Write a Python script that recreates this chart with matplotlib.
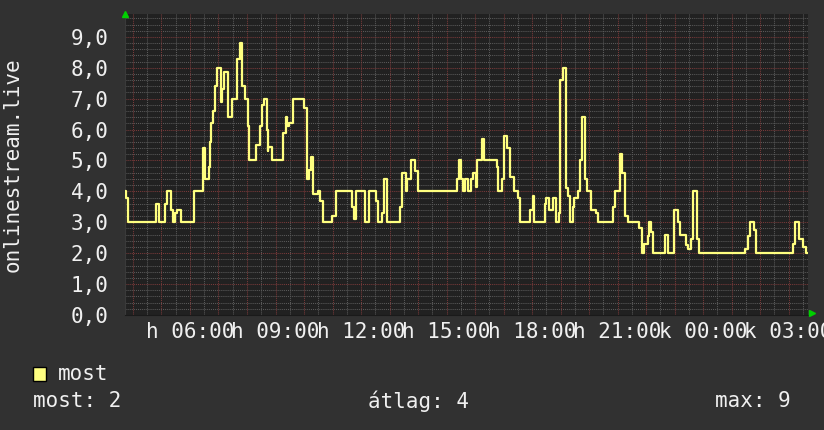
import matplotlib
matplotlib.use("Agg")
import matplotlib.pyplot as plt
from matplotlib.patches import Rectangle
import numpy as np

# ---- data (time in hours since midnight of day 1; value = viewers) ----
change_hours = [3.72, 3.77, 3.84, 4.79, 4.93, 5.14, 5.21, 5.33, 5.40, 5.47, 5.54, 5.67,
                6.14, 6.47, 6.54, 6.65, 6.70, 6.75, 6.81, 6.89, 6.96, 7.10, 7.14, 7.19,
                7.35, 7.48, 7.66, 7.75, 7.84, 7.93, 8.02, 8.07, 8.33, 8.46, 8.51, 8.60,
                8.69, 8.73, 8.75, 8.86, 9.26, 9.36, 9.41, 9.46, 9.61, 10.01, 10.09, 10.16,
                10.25, 10.33, 10.48, 10.56, 10.68, 10.97, 11.11, 11.68, 11.76, 11.82, 12.14,
                12.28, 12.51, 12.58, 12.72, 12.79, 12.91, 13.38, 13.43, 13.58, 13.62, 13.75,
                13.91, 14.01, 15.37, 15.42, 15.51, 15.59, 15.66, 15.75, 15.86, 15.92, 16.02,
                16.07, 16.24, 16.33, 16.77, 16.82, 16.95, 17.00, 17.12, 17.24, 17.35, 17.50,
                17.56, 17.92, 18.02, 18.08, 18.44, 18.50, 18.58, 18.74, 18.83, 18.95, 18.99,
                19.09, 19.18, 19.26, 19.34, 19.44, 19.48, 19.60, 19.68, 19.75, 19.86, 19.91,
                20.08, 20.26, 20.32, 20.84, 20.91, 21.10, 21.17, 21.26, 21.37, 21.74, 21.84,
                21.93, 22.05, 22.09, 22.16, 22.25, 22.67, 22.78, 22.98, 23.11, 23.18, 23.39,
                23.46, 23.57, 23.65, 23.77, 23.84, 25.46, 25.56, 25.65, 25.77, 25.85, 27.17,
                27.23, 27.38, 27.50, 27.60]
viewers = [4.0, 3.8, 3.0, 3.6, 3.0, 3.6, 4.0, 3.4, 3.0, 3.3, 3.4, 3.0,
           4.0, 5.4, 4.4, 4.8, 5.6, 6.2, 6.6, 7.4, 8.0, 6.9, 7.3, 7.85,
           6.4, 7.0, 8.3, 8.8, 7.4, 7.0, 6.1, 5.0, 5.5, 6.1, 6.8, 7.0,
           6.0, 5.3, 5.45, 5.0, 5.9, 6.4, 6.1, 6.2, 7.0, 6.7, 4.4, 4.7,
           5.1, 3.9, 4.0, 3.7, 3.0, 3.2, 4.0, 3.5, 3.1, 4.0, 3.0,
           4.0, 3.7, 3.0, 3.3, 4.4, 3.0, 3.5, 4.6, 4.0, 4.4, 5.0,
           4.65, 4.0, 4.4, 5.0, 4.4, 4.0, 4.4, 4.0, 4.4, 4.6, 4.15,
           5.0, 5.7, 5.0, 4.8, 4.0, 4.4, 5.8, 5.4, 4.45, 4.0, 3.8,
           3.0, 3.4, 3.85, 3.0, 3.6, 3.8, 3.4, 3.8, 3.0, 3.3, 7.6,
           8.0, 4.1, 3.85, 3.0, 3.5, 3.8, 4.0, 5.0, 6.4, 4.4, 4.0,
           3.4, 3.3, 3.0, 3.5, 4.0, 5.2, 4.6, 3.2, 3.0, 2.8, 2.0,
           2.3, 2.55, 3.0, 2.7, 2.0, 2.6, 2.0, 3.4, 3.0, 2.6, 2.25,
           2.15, 2.45, 4.0, 2.45, 2.0, 2.15, 2.55, 3.0, 2.75, 2.0, 2.3,
           3.0, 2.45, 2.2, 2.0]
end_hour = 27.67
x_range = [3.72, 27.68]
y_range = [0.0, 9.74]

tick_hours = [6, 9, 12, 15, 18, 21, 24, 27]
tick_labels = ["h 06:00", "h 09:00", "h 12:00", "h 15:00", "h 18:00",
               "h 21:00", "k 00:00", "k 03:00"]
y_ticks = [0, 1, 2, 3, 4, 5, 6, 7, 8, 9]
y_tick_labels = ["0,0", "1,0", "2,0", "3,0", "4,0", "5,0", "6,0", "7,0", "8,0", "9,0"]
series_name = "most"
y_title = "onlinestream.live"
stats = ["most: 2", "átlag: 4", "max: 9"]

# ---- style ----
CANVAS = "#313131"
PLOT_BG = "#212121"
LINE = "#ffff80"
TXT = "#f0f0f0"
MINOR = "#5a5a5a"
MAJOR = "#7a3a3a"
FONT = "DejaVu Sans Mono"
FS = 15

W, H = 824, 430
fig = plt.figure(figsize=(W / 100, H / 100), dpi=100)
fig.patch.set_facecolor(CANVAS)
ax = fig.add_axes([125 / W, 115 / H, 683 / W, 301 / H])
ax.set_facecolor(PLOT_BG)
ax.set_xlim(*x_range)
ax.set_ylim(*y_range)

# grid
for h in np.arange(3.5, 28.0, 0.5):
    if abs(h - round(h)) > 1e-6:
        ax.axvline(h, color=MINOR, lw=0.75, ls=(0, (1, 1)), zorder=1)
for h in range(4, 28):
    ax.axvline(h, color=MAJOR, lw=0.75, ls=(0, (1, 1)), zorder=1.1)
for v in np.arange(0.2, 9.7, 0.2):
    if abs(v - round(v)) > 1e-6:
        ax.axhline(v, color=MINOR, lw=0.75, ls=(0, (1, 1)), zorder=1)
for v in range(1, 10):
    ax.axhline(v, color=MAJOR, lw=0.75, ls=(0, (1, 1)), zorder=1.1)

xs = change_hours + [end_hour]
ys = viewers + [viewers[-1]]
ax.step(xs, ys, where="post", color=LINE, lw=1.6, zorder=3)

for s in ["top", "right"]:
    ax.spines[s].set_visible(False)
ax.spines["left"].set_color("#3a3a3a")
ax.spines["bottom"].set_color("#1a1a1a")

ax.set_xticks(tick_hours)
ax.set_xticklabels(tick_labels, fontfamily=FONT, fontsize=FS, color=TXT)
ax.set_yticks(y_ticks)
ax.set_yticklabels(y_tick_labels, fontfamily=FONT, fontsize=FS, color=TXT)
ax.tick_params(axis="x", length=0, pad=5)
ax.tick_params(axis="y", length=0, pad=12)

# arrows
ax.plot([x_range[0]], [y_range[1]], marker="^", color="#00d000", ms=5,
        clip_on=False, zorder=5)
ax.plot([x_range[1] + 0.15], [0.07], marker=">", color="#00d000", ms=5,
        clip_on=False, zorder=5)

fig.text(13 / W, 1 - 165 / H, y_title, rotation=90, ha="center", va="center",
         fontfamily=FONT, fontsize=FS, color=TXT)

# legend
fig.add_artist(Rectangle((33 / W, 1 - 381 / H), 13 / W, 14 / H,
                         transform=fig.transFigure, facecolor=LINE,
                         edgecolor="black", lw=1))
fig.text(58 / W, 1 - 374 / H, series_name, ha="left", va="center",
         fontfamily=FONT, fontsize=FS, color=TXT)
stat_x = [33, 368, 715]
for sx, s in zip(stat_x, stats):
    fig.text(sx / W, 1 - 401 / H, s, ha="left", va="center",
             fontfamily=FONT, fontsize=FS, color=TXT)

fig.savefig("out.png", dpi=100, facecolor=CANVAS)
